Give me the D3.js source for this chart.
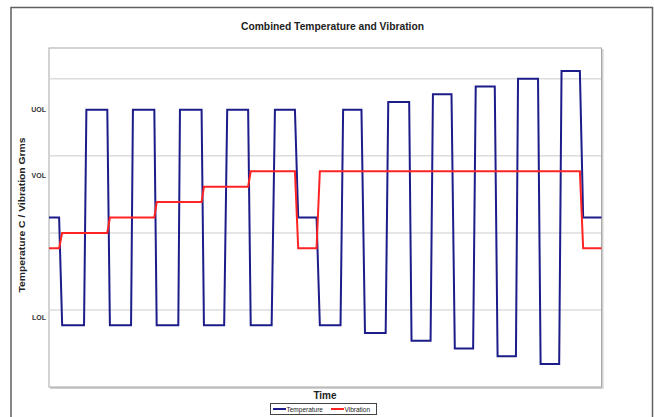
<!DOCTYPE html>
<html>
<head>
<meta charset="utf-8">
<script src="https://cdn.jsdelivr.net/npm/d3@7"></script>
<style>
  html, body { margin: 0; padding: 0; background: #fff; }
  svg { display: block; }
  text { font-family: "Liberation Sans", Arial, sans-serif; }
</style>
</head>
<body>
<div id="chart"></div>
<script>
// ---- data (time in minutes, values in chart units) ----
const temperatureTime = [0, 4.3, 5.6, 14.9, 15.9, 24.8, 25.9, 34.9, 35.7, 44.8, 45.8, 55.0, 55.7, 64.9, 65.9, 74.5, 75.8, 84.7, 85.8, 94.7, 96.1, 104.6, 106.0, 113.8, 115.2, 124.0, 125.1, 132.9, 134.4, 143.2, 144.3, 153.2, 154.2, 162.3, 163.3, 171.2, 172.6, 180.4, 181.5, 189.6, 190.8, 198.6, 199.5, 208.0, 209.1, 217.0, 218.0, 225.8, 227.2, 235];
const temperatureValue = [44, 44, 16, 16, 72, 72, 16, 16, 72, 72, 16, 16, 72, 72, 16, 16, 72, 72, 16, 16, 72, 72, 44, 44, 16, 16, 72, 72, 14, 14, 74, 74, 12, 12, 76, 76, 10, 10, 78, 78, 8, 8, 80, 80, 6, 6, 82, 82, 44, 44];
const vibrationTime = [0, 4.3, 5.6, 24.8, 25.9, 44.8, 45.8, 64.9, 65.9, 84.7, 85.8, 104.6, 106.0, 113.8, 115.2, 225.8, 227.2, 235];
const vibrationValue = [36, 36, 40, 40, 44, 44, 48, 48, 52, 52, 56, 56, 36, 36, 56, 56, 36, 36];
const gridValues = [20, 40, 60, 80];
const yTickLabels = ["LOL", "VOL", "UOL"];
const yTickValues = [18, 55, 72];
const seriesNames = ["Temperature", "Vibration"];
const seriesColors = ["#1c1c8a", "#ff2424"];

const W = 654, H = 417;
const svg = d3.select("#chart").append("svg").attr("width", W).attr("height", H);

// outer chart frame
svg.append("rect").attr("x", 11).attr("y", 7.5).attr("width", 641.5).attr("height", 420)
  .attr("fill", "#fff").attr("stroke", "#606060").attr("stroke-width", 1.5);

const plot = { left: 49, top: 48, right: 601.5, bottom: 387 };
const x = d3.scaleLinear().domain([0, 235]).range([plot.left, plot.right]);
const y = d3.scaleLinear().domain([0, 88]).range([plot.bottom, plot.top]);

// plot area shadow + border
svg.append("rect").attr("x", plot.left + 1).attr("y", plot.top + 1)
  .attr("width", plot.right - plot.left + 1).attr("height", plot.bottom - plot.top + 1)
  .attr("fill", "#d0d0d0");
svg.append("rect").attr("x", plot.left).attr("y", plot.top)
  .attr("width", plot.right - plot.left).attr("height", plot.bottom - plot.top)
  .attr("fill", "#fff").attr("stroke", "#a8a8a8").attr("stroke-width", 1);

// gridlines
svg.append("g").selectAll("line").data(gridValues).join("line")
  .attr("x1", plot.left + 0.5).attr("x2", plot.right - 0.5)
  .attr("y1", d => y(d)).attr("y2", d => y(d))
  .attr("stroke", "#dcdcdc").attr("stroke-width", 1.5);

// y tick labels
const yAxis = d3.axisLeft(y).tickValues(yTickValues)
  .tickFormat((d, i) => yTickLabels[i]).tickSize(0).tickPadding(3);
const ga = svg.append("g").attr("transform", `translate(${plot.left},0)`).call(yAxis);
ga.select(".domain").remove();
ga.selectAll("text").attr("font-size", 7).attr("font-weight", "bold").attr("fill", "#333")
  .attr("font-family", "Liberation Sans, Arial, sans-serif");

// lines
const line = d3.line().x(d => x(d[0])).y(d => y(d[1]));
const tData = temperatureTime.map((t, i) => [t, temperatureValue[i]]);
const vData = vibrationTime.map((t, i) => [t, vibrationValue[i]]);
svg.append("path").datum(tData).attr("d", line).attr("fill", "none")
  .attr("stroke", seriesColors[0]).attr("stroke-width", 2).attr("stroke-linejoin", "miter");
svg.append("path").datum(vData).attr("d", line).attr("fill", "none")
  .attr("stroke", seriesColors[1]).attr("stroke-width", 2).attr("stroke-linejoin", "miter");

// title
svg.append("text").attr("x", 332.5).attr("y", 30).attr("text-anchor", "middle")
  .attr("font-size", 10).attr("font-weight", "bold").attr("fill", "#222")
  .attr("textLength", 183).attr("lengthAdjust", "spacingAndGlyphs")
  .text("Combined Temperature and Vibration");

// axis titles
svg.append("text").attr("transform", "translate(24.5,215) rotate(-90)").attr("text-anchor", "middle")
  .attr("font-size", 9.5).attr("font-weight", "bold").attr("fill", "#222")
  .attr("textLength", 155).attr("lengthAdjust", "spacingAndGlyphs")
  .text("Temperature C / Vibration Grms");
svg.append("text").attr("x", 325).attr("y", 399).attr("text-anchor", "middle")
  .attr("font-size", 10).attr("font-weight", "bold").attr("fill", "#222").text("Time");

// legend
const lg = svg.append("g");
lg.append("rect").attr("x", 270.5).attr("y", 403.5).attr("width", 106).attr("height", 11)
  .attr("fill", "#fff").attr("stroke", "#444").attr("stroke-width", 1);
const legendX = [273, 331];
seriesNames.forEach((n, i) => {
  lg.append("line").attr("x1", legendX[i]).attr("x2", legendX[i] + 13)
    .attr("y1", 409).attr("y2", 409).attr("stroke", seriesColors[i]).attr("stroke-width", 2);
  lg.append("text").attr("x", legendX[i] + 13.5).attr("y", 411.5)
    .attr("font-size", 6.5).attr("fill", "#222").text(n);
});
</script>
</body>
</html>
